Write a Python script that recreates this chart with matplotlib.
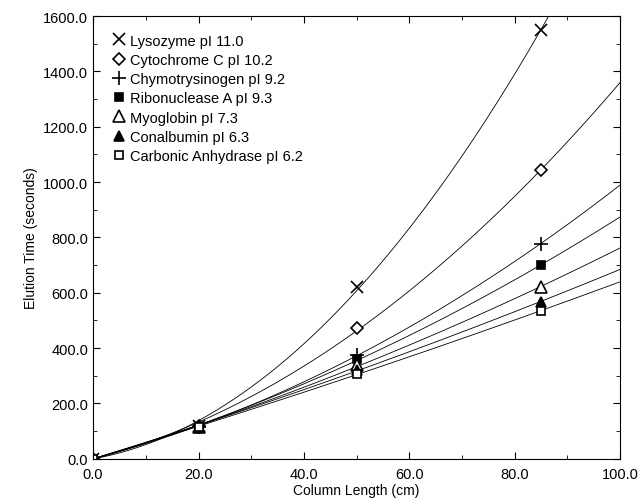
import numpy as np
import matplotlib
matplotlib.use("Agg")
import matplotlib.pyplot as plt
from matplotlib.ticker import MultipleLocator, FormatStrFormatter

plt.rcParams["font.family"] = ["Liberation Sans", "DejaVu Sans"]

column_length = [0.0, 20.0, 50.0, 85.0]
proteins = ["Lysozyme pI 11.0", "Cytochrome C pI 10.2", "Chymotrysinogen pI 9.2",
            "Ribonuclease A pI 9.3", "Myoglobin pI 7.3", "Conalbumin pI 6.3",
            "Carbonic Anhydrase pI 6.2"]
lysozyme = [0, 118, 622, 1548]
cytochrome = [0, 117, 474, 1042]
chymo = [0, 116, 375, 778]
ribonuclease = [0, 116, 360, 700]
myoglobin = [0, 115, 338, 622]
conalbumin = [0, 115, 322, 568]
carbonic = [0, 114, 307, 535]

series = [lysozyme, cytochrome, chymo, ribonuclease, myoglobin, conalbumin, carbonic]
markers = ["x", "D", "+", "s", "^", "^", "s"]
filled = [True, False, True, True, False, True, False]
sizes = [9, 6, 10, 6, 8, 7, 6]

fig = plt.figure(figsize=(6.42, 5.02), dpi=100)
ax = fig.add_axes([0.145, 0.084, 0.821, 0.882])

xs = np.linspace(0, 100, 300)
xc = np.array(column_length)
for name, ys, m, f, s in zip(proteins, series, markers, filled, sizes):
    # quadratic fit through the origin
    A = np.column_stack([xc ** 2, xc])
    (a, b), *_ = np.linalg.lstsq(A, np.array(ys, float), rcond=None)
    ax.plot(xs, a * xs ** 2 + b * xs, color="black", lw=0.6)
    ax.plot(column_length, ys, linestyle="none", marker=m, ms=s,
            markerfacecolor="black" if f else "white", markeredgecolor="black",
            mew=1.2, label=name)

ax.set_xlim(0, 100)
ax.set_ylim(0, 1600)
ax.xaxis.set_major_locator(MultipleLocator(20))
ax.xaxis.set_minor_locator(MultipleLocator(10))
ax.yaxis.set_major_locator(MultipleLocator(200))
ax.yaxis.set_minor_locator(MultipleLocator(100))
ax.xaxis.set_major_formatter(FormatStrFormatter("%.1f"))
ax.yaxis.set_major_formatter(FormatStrFormatter("%.1f"))
ax.tick_params(which="both", direction="in", top=True, right=True, labelsize=10.5)
ax.tick_params(which="major", length=5)
ax.tick_params(which="minor", length=3)
ax.tick_params(axis="x", pad=6)
ax.set_xlabel("Column Length (cm)", fontsize=10, labelpad=1)
ax.set_ylabel("Elution Time (seconds)", fontsize=10)

ax.legend(loc="upper left", frameon=False, fontsize=10.5, handletextpad=0.1,
          handlelength=1.2, labelspacing=0.36, borderaxespad=0.7,
          borderpad=0.5)

fig.savefig("out.png", dpi=100)
